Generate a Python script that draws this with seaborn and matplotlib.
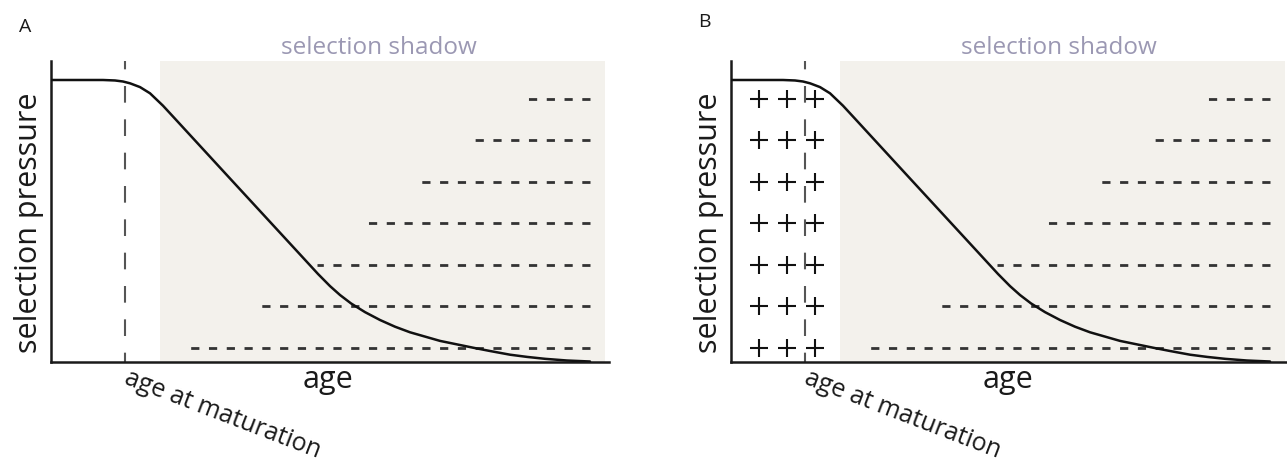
import matplotlib.pyplot as plt
import pandas as pd
import seaborn as sns

# curve (x: age 0-100 along the axis, y: selection pressure 0-100)
age = [0, 9.32, 11.47, 12.90, 14.16, 15.95, 17.74, 20.07, 22.22, 32.08, 44.09, 47.85,
       50.00, 51.79, 53.76, 56.27, 58.96, 61.65, 64.34, 69.71, 75.63, 78.67, 82.26,
       85.30, 88.53, 92.47, 96.59]
pressure = [93.68, 93.68, 93.52, 93.18, 92.58, 91.32, 89.26, 85.13, 80.81, 60.92, 36.75,
            29.17, 25.14, 22.18, 19.39, 16.49, 13.87, 11.64, 9.78, 6.92, 4.66, 3.56, 2.33,
            1.60, 0.96, 0.40, 0.07]

# dashed rows of late-acting alleles
row_levels = [87.4, 73.7, 59.9, 46.1, 32.3, 18.4, 4.6]
row_starts = [85.5, 75.8, 66.1, 56.5, 47.7, 37.1, 24.2]
row_end = 96.6

maturation_age = 13.3
shadow_start = 19.5
shadow_end = 99.3

# plus signs (panel B only)
plus_ages = [5, 10, 15]

panels = ["A", "B"]

sns.set_theme(style="white")
plt.rcParams["font.family"] = ["Open Sans", "DejaVu Sans"]
plt.rcParams["lines.scale_dashes"] = False

curve_df = pd.DataFrame({"age": age, "pressure": pressure})
plus_df = pd.DataFrame(
    [(a, lv) for lv in row_levels for a in plus_ages], columns=["age", "level"]
)

fig = plt.figure(figsize=(12.87, 4.64), dpi=100)

ax_lefts = [51 / 1287, 731 / 1287]
letter_pos = [(25 / 1287, 0.931), (704.5 / 1287, 0.942)]

for panel, left, (lx, ly) in zip(panels, ax_lefts, letter_pos):
    ax = fig.add_axes([left, 0.2183, 0.4336, 0.6481])
    ax.set_xlim(0, 100)
    ax.set_ylim(0, 100)

    ax.axvspan(shadow_start, shadow_end, color="#f3f1ec", lw=0, zorder=0)

    for lv, st in zip(row_levels, row_starts):
        ax.plot([row_end, st], [lv, lv], color="#333333", lw=2.0,
                linestyle=(0, (5.9, 6.9)), solid_capstyle="butt", zorder=2)

    ax.plot([maturation_age, maturation_age], [100, 0], color="#555555", lw=1.5,
            linestyle=(6, (12, 12)), zorder=2, clip_on=False)

    sns.lineplot(data=curve_df, x="age", y="pressure", sort=False, color="#111111",
                 lw=1.8, ax=ax, zorder=3)

    if panel == "B":
        sns.scatterplot(data=plus_df, x="age", y="level", marker="+", s=170,
                        color="#111111", linewidth=1.5, ax=ax, zorder=4, legend=False)

    ax.set_xticks([])
    ax.set_yticks([])
    ax.set_xlabel("")
    ax.set_ylabel("")
    for side in ["top", "right"]:
        ax.spines[side].set_visible(False)
    for side in ["left", "bottom"]:
        ax.spines[side].set_color("#1a1a1a")
        ax.spines[side].set_linewidth(1.8)

    ax.text(-0.0403, 0.4646, "selection pressure", transform=ax.transAxes,
            rotation=90, ha="center", va="center", fontsize=22, color="#1a1a1a")
    ax.text(0.4955, -0.0841, "age", transform=ax.transAxes,
            ha="center", va="baseline", fontsize=22, color="#1a1a1a")
    ax.text(0.129, -0.0675, "age at maturation", transform=ax.transAxes,
            rotation=-21, rotation_mode="anchor", ha="left", va="baseline",
            fontsize=18, color="#1a1a1a")
    ax.text(0.5878, 1.0266, "selection shadow", transform=ax.transAxes,
            ha="center", va="baseline", fontsize=17.5, color="#9b98b3")

    fig.text(lx, ly, panel, ha="center", va="baseline", fontsize=14, color="#1a1a1a")

fig.savefig("out.png", dpi=100)
